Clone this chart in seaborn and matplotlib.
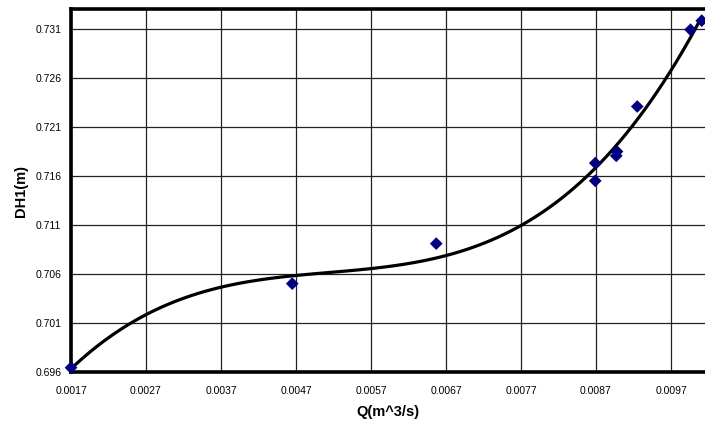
import matplotlib
matplotlib.use("Agg")
import matplotlib.pyplot as plt
import seaborn as sns
import numpy as np
import pandas as pd

# Data
q_values = [0.0017, 0.00465, 0.00657, 0.00869, 0.00869, 0.00898, 0.00897, 0.00925, 0.00996, 0.01011]
dh1_values = [0.69647, 0.70504, 0.70912, 0.71733, 0.71552, 0.71851, 0.71807, 0.72310, 0.73093, 0.73185]
x_ticks = [0.0017, 0.0027, 0.0037, 0.0047, 0.0057, 0.0067, 0.0077, 0.0087, 0.0097]
y_ticks = [0.696, 0.701, 0.706, 0.711, 0.716, 0.721, 0.726, 0.731]
x_label = "Q(m^3/s)"
y_label = "DH1(m)"

df = pd.DataFrame({"Q": q_values, "DH1": dh1_values})

sns.set_style("white")
plt.rcParams["font.family"] = ["Liberation Sans", "DejaVu Sans"]
plt.rcParams["text.color"] = "black"
plt.rcParams["axes.labelcolor"] = "black"

fig = plt.figure(figsize=(7.05, 4.23), dpi=100)
ax = fig.add_axes([71 / 705, 1 - 372.3 / 423, 634 / 705, (372.3 - 9) / 423])

sns.regplot(
    data=df, x="Q", y="DH1", order=3, ci=None, ax=ax,
    marker="D",
    scatter_kws={"s": 42, "color": "#000080", "edgecolor": "none", "alpha": 1,
                 "zorder": 5, "clip_on": False},
    line_kws={"color": "black", "lw": 2.3, "zorder": 4},
)

ax.set_xlim(0.0017, 0.0017 + 634 / 75000)
ax.set_ylim(0.696, 0.731 + 20 / 9800)
ax.set_xticks(x_ticks)
ax.set_xticklabels([f"{t:.4f}" for t in x_ticks])
ax.set_yticks(y_ticks)
ax.set_yticklabels([f"{t:.3f}" for t in y_ticks])
ax.tick_params(axis="both", labelsize=7.5, colors="black", labelcolor="black",
               direction="out", length=4, width=1, pad=3)
ax.tick_params(axis="x", pad=6)
ax.grid(True, color="#222222", lw=0.9)
ax.set_axisbelow(True)

for side in ["left", "bottom", "top"]:
    ax.spines[side].set_visible(True)
    ax.spines[side].set_color("black")
    ax.spines[side].set_linewidth(2.6)
ax.spines["right"].set_visible(False)

ax.set_xlabel(x_label, fontsize=10.5, fontweight="bold", labelpad=6, color="black")
ax.set_ylabel(y_label, fontsize=10.5, fontweight="bold", labelpad=5, color="black")

fig.savefig("out.png", dpi=100)
